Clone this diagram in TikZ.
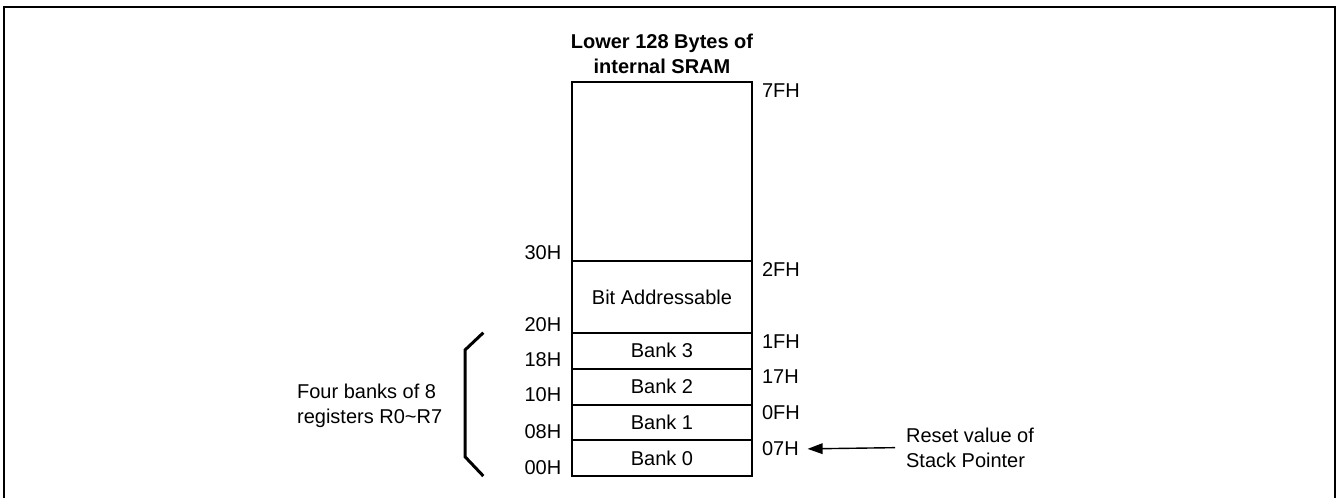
\documentclass[tikz,border=0pt]{standalone}
\usepackage{fontspec}
\setmainfont{Liberation Sans}
\usetikzlibrary{arrows.meta}
\begin{document}
\begin{tikzpicture}[x=0.5pt,y=-0.5pt,
  every node/.style={font=\fontsize{10pt}{12.5pt}\selectfont, inner sep=0pt},
  cell/.style={draw, line width=1pt, minimum width=89.7pt, anchor=center},
  lab/.style={anchor=east},
  rab/.style={anchor=west},
  frame/.style={line width=1.25pt},
  brace/.style={line width=1.5pt},
  ptr/.style={line width=0.7pt, -{Triangle[length=7.5pt,width=5.3pt]}, shorten <=5.3pt, shorten >=4.2pt}]
\useasboundingbox (0,0) rectangle (1339,498);
\clip (0,0) rectangle (1339,498);
\draw[frame] (4,510) -- (4,7) -- (1335,7) -- (1335,510);
% title
\node[font=\fontsize{10pt}{12.5pt}\selectfont\bfseries, align=center] (title) at (662,54.2) {Lower 128 Bytes of\\internal SRAM};
% memory cells
\node[cell, minimum height=89.5pt] (free) at (662,171.8) {};
\node[cell, minimum height=35.8pt] (bit) at (662,297.1) {Bit Addressable};
\node[cell, minimum height=17.9pt] (b3) at (662,350.8) {Bank 3};
\node[cell, minimum height=17.9pt] (b2) at (662,386.6) {Bank 2};
\node[cell, minimum height=17.9pt] (b1) at (662,422.4) {Bank 1};
\node[cell, minimum height=17.9pt] (b0) at (662,458.1) {Bank 0};
% left addresses
\node[lab] (l30) at (561.7,252.5) {30H};
\node[lab] (l20) at (561.7,324.3) {20H};
\node[lab] (l18) at (561.7,359.2) {18H};
\node[lab] (l10) at (561.7,394.5) {10H};
\node[lab] (l08) at (561.7,431.2) {08H};
\node[lab] (l00) at (561.7,467.5) {00H};
% right addresses
\node[rab] (r7F) at (761.7,90.7) {7FH};
\node[rab] (r2F) at (761.7,269.5) {2FH};
\node[rab] (r1F) at (761.7,341.5) {1FH};
\node[rab] (r17) at (761.7,377.1) {17H};
\node[rab] (r0F) at (761.7,413) {0FH};
\node[rab] (r07) at (761.7,449) {07H};
% bracket
\draw[brace] (483.3,332.7) -- (465,350) -- (465,456.7) -- (483.3,476);
\node[anchor=west, align=left] (four) at (296.7,406) {Four banks of 8\\registers R0\textasciitilde R7};
% stack pointer
\node[anchor=west, align=left] (reset) at (905.7,447.5) {Reset value of\\Stack Pointer};
\draw[ptr] (reset.west) -- (r07.east);
\end{tikzpicture}
\end{document}
